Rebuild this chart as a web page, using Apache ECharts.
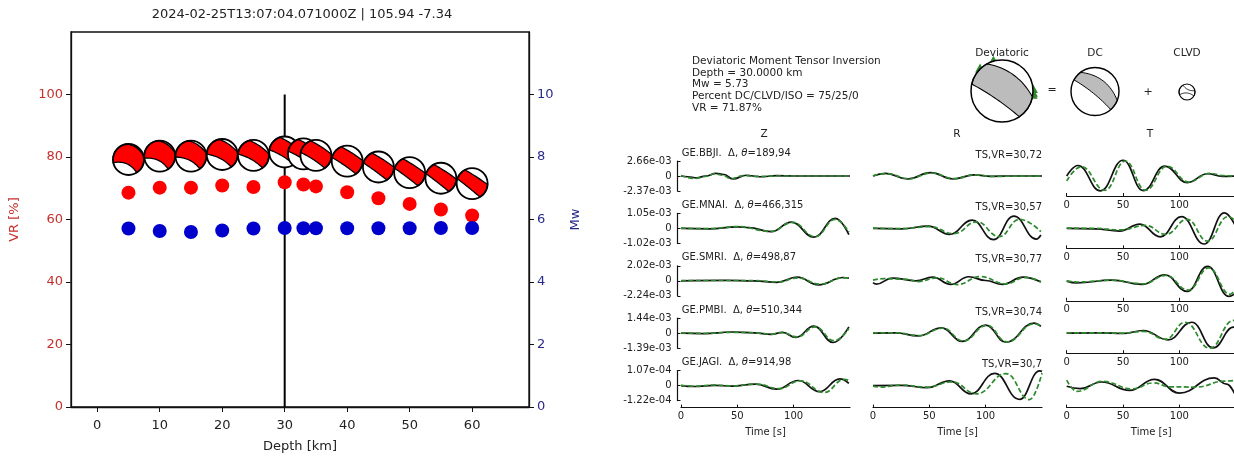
<!doctype html>
<html lang="en">
<head>
<meta charset="utf-8">
<title>Deviatoric moment tensor depth scan</title>
<script src="https://cdn.jsdelivr.net/npm/echarts@6/dist/echarts.min.js"></script>
<style>
  html, body { margin: 0; padding: 0; background: #fff; }
  #chart { width: 1234px; height: 456px; }
</style>
</head>
<body>
<div id="chart"></div>
<script>
// ---- depth scan (left panel) ----
var depths = [5, 10, 15, 20, 25, 30, 33, 35, 40, 45, 50, 55, 60];
var vr = [68.6, 70.2, 70.2, 70.9, 70.4, 71.9, 71.2, 70.6, 68.7, 66.8, 65.0, 63.2, 61.3];
var mw = [5.71, 5.63, 5.60, 5.65, 5.71, 5.73, 5.72, 5.72, 5.72, 5.72, 5.72, 5.73, 5.73];
var ballVR = [79.2, 80.3, 80.3, 80.8, 80.5, 81.6, 81.0, 80.5, 78.7, 76.8, 75.0, 73.2, 71.5];
var bestDepth = 30;
// nodal curves per mechanism: [a1, a2, bowA, b1, b2, bowB]
var mech = [
  [192, -58, 0.55, 92, 12, 0.3],
  [188, -57, 0.5, 95, 12, 0.28],
  [184, -55, 0.42, 98, 10, 0.25],
  [179, -54, 0.32, 102, 8, 0.2],
  [175, -54, 0.25, 105, 6, 0.16],
  [172, -54, 0.18, 108, 5, 0.12],
  [170, -54, 0.15, 110, 4, 0.12],
  [169, -55, 0.12, 110, 4, 0.1],
  [167, -56, 0.08, 113, 2, 0.08],
  [165, -57, 0.05, 115, 0, 0.06],
  [164, -58, 0.04, 116, -2, 0.06],
  [163, -59, 0.03, 117, -3, 0.06],
  [162, -60, 0.03, 118, -4, 0.06]
];
var devMech = [167, -56, 0.1, 119, -11, 0.43];
var dcMech = [151, -49, 0.15, 127, -22, 0.58];
var clvdMech = [200, -30, 0.6, 120, 10, -0.5];

// ---- waveform fits (right panel) ----
var stations = ['GE.BBJI.', 'GE.MNAI.', 'GE.SMRI.', 'GE.PMBI.', 'GE.JAGI.'];
var stationDist = [189, 466, 498, 510, 914];
var stationAz = [94, 315, 87, 344, 98];
var tsVR = ['30,72', '30,57', '30,77', '30,74', '30,7'];
var ampTop = ['2.66e-03', '1.05e-03', '2.02e-03', '1.44e-03', '1.07e-04'];
var ampBot = ['-2.37e-03', '-1.02e-03', '-2.24e-03', '-1.39e-03', '-1.22e-04'];
var infoLines = ['Deviatoric Moment Tensor Inversion', 'Depth = 30.0000 km', 'Mw = 5.73',
  'Percent DC/CLVD/ISO = 75/25/0', 'VR = 71.87%'];

// [time s, amplitude relative to panel tick range]
var obsZ = [
  [[0,0],[6,-0.05],[14,-0.12],[22,0],[31,0.18],[38,0.1],[46,-0.2],[58,0.05],[70,-0.05],[85,0.02],[100,0],[150,0]],
  [[0,0],[25,-0.03],[50,0.1],[60,0.05],[80,-0.22],[98,0.42],[118,-0.58],[137,0.67],[149,-0.42]],
  [[0,0],[40,0.03],[65,0],[85,-0.1],[103,0.24],[122,-0.27],[144,0.22],[149,0.18]],
  [[0,0],[20,-0.03],[45,0.08],[65,0.02],[80,-0.08],[90,0.05],[102,-0.28],[118,0.47],[135,-0.62],[149,0.42]],
  [[0,0],[12,-0.06],[30,0.02],[45,-0.04],[66,0.1],[85,-0.24],[104,0.34],[123,-0.4],[141,0.45],[149,0.15]]
];
var synZ = [
  [[0,0.03],[12,-0.16],[22,-0.02],[30,0.15],[37,0.05],[44,-0.17],[56,0.02],[68,-0.03],[85,0],[150,0]],
  [[0,0.02],[25,-0.02],[50,0.12],[80,-0.2],[99,0.4],[119,-0.55],[137,0.6],[149,-0.25]],
  [[0,0.02],[40,0.02],[65,0.02],[86,-0.08],[104,0.2],[123,-0.22],[144,0.2],[149,0.2]],
  [[0,0.02],[20,-0.02],[45,0.06],[65,0.03],[80,-0.06],[90,0.04],[103,-0.25],[119,0.42],[136,-0.5],[149,0.32]],
  [[0,0.02],[12,-0.04],[30,0.04],[45,-0.02],[67,0.1],[87,-0.2],[106,0.32],[127,-0.46],[145,0.42],[149,0.35]]
];
var obsR = [
  [[0,0],[11,0.18],[31,-0.2],[51,0.22],[71,-0.2],[90,0.08],[105,-0.02],[120,0],[150,0]],
  [[0,0],[25,-0.03],[49,0.15],[68,-0.4],[88,0.55],[107,-0.75],[125,0.82],[145,-0.71],[149,-0.44]],
  [[0,-0.12],[3,-0.22],[17,0.18],[38,0],[53,0.24],[69,-0.24],[85,0.27],[100,0.02],[115,-0.24],[133,0.24],[149,-0.08]],
  [[0,0],[20,0.02],[40,-0.18],[61,0.36],[79,-0.55],[100,0.54],[118,-0.6],[143,0.67],[149,0.45]],
  [[0,0],[25,0.02],[48,-0.14],[68,0.32],[87,-0.55],[108,0.82],[130,-0.92],[148,0.98],[150,0.95]]
];
var synR = [
  [[0,0.02],[12,0.16],[32,-0.18],[52,0.2],[72,-0.18],[91,0.07],[105,-0.02],[150,0]],
  [[0,0.02],[25,-0.02],[50,0.12],[72,-0.35],[92,0.44],[112,-0.55],[130,0.6],[149,-0.22]],
  [[0,0.05],[10,0.15],[30,0.1],[40,-0.05],[57,0.2],[75,-0.25],[95,0.28],[118,-0.2],[135,0.22],[149,-0.05]],
  [[0,0.02],[20,0.03],[41,-0.16],[62,0.34],[80,-0.52],[101,0.52],[119,-0.58],[143,0.62],[149,0.5]],
  [[0,-0.04],[6,-0.1],[25,0.04],[48,-0.1],[70,0.25],[92,-0.55],[118,0.8],[139,-0.93],[150,0.84]]
];
var obsT = [
  [[0,0],[10,0.7],[30,-0.99],[50,1.05],[68,-0.98],[87,0.66],[107,-0.44],[125,0.15],[138,-0.02],[150,0]],
  [[0,0],[25,-0.03],[47,-0.18],[65,0.29],[83,-0.56],[102,0.78],[122,-1.04],[140,1.04],[150,0.12]],
  [[0,-0.02],[9,-0.14],[40,0.05],[67,-0.24],[87,0.4],[107,-0.71],[125,0.96],[144,-1.04],[150,-0.8]],
  [[0,0],[30,0.02],[50,-0.02],[68,0.18],[90,-0.44],[111,0.73],[130,-0.98],[148,0.4],[150,0.55]],
  [[0,-0.04],[12,-0.2],[31,0.24],[56,-0.32],[78,0.42],[100,-0.5],[131,0.51],[142,0.1],[150,-0.7]]
];
var synT = [
  [[0,-0.33],[13,0.62],[34,-0.95],[52,1.0],[70,-0.95],[89,0.65],[108,-0.4],[127,0.18],[140,0.02],[150,0]],
  [[0,0.02],[25,0],[48,-0.1],[70,0.2],[88,-0.4],[107,0.6],[125,-0.85],[143,0.78],[150,0.5]],
  [[0,0],[9,-0.08],[40,0.04],[68,-0.2],[88,0.36],[108,-0.62],[126,0.86],[145,-0.9],[150,-0.5]],
  [[0,0.02],[30,0.02],[50,0],[68,0.12],[88,-0.4],[105,0.73],[127,-1.0],[148,0.85],[150,0.9]],
  [[0,0.36],[9,-0.38],[32,0.28],[58,-0.22],[77,0.18],[92,-0.08],[115,-0.1],[140,0.3],[150,0.36]]
];

var FONT = 'DejaVu Sans';
var TXT = '#222';
var GREEN = '#2d8a2d';

// beachball helpers (unit circle, v pointing up)
function unit(a) { var r = a * Math.PI / 180; return [Math.cos(r), Math.sin(r)]; }
function arcPts(out, from, to) {
  while (to < from) to += 360;
  for (var a = from; a < to; a += 4) out.push(unit(a));
  out.push(unit(to));
}
function bezPts(a, b, bow) {
  var p = unit(a), q = unit(b);
  var dx = q[0] - p[0], dy = q[1] - p[1], len = Math.sqrt(dx * dx + dy * dy);
  var c = [(p[0] + q[0]) / 2 - dy / len * bow, (p[1] + q[1]) / 2 + dx / len * bow];
  var pts = [];
  for (var i = 0; i <= 20; i++) {
    var t = i / 20, s = 1 - t;
    pts.push([s * s * p[0] + 2 * s * t * c[0] + t * t * q[0], s * s * p[1] + 2 * s * t * c[1] + t * t * q[1]]);
  }
  return pts;
}
function ballEls(cx, cy, r, m, fill, lw) {
  var pts = [];
  arcPts(pts, m[3], m[0]);
  pts = pts.concat(bezPts(m[0], m[1], m[2]));
  arcPts(pts, m[1], m[4]);
  pts = pts.concat(bezPts(m[3], m[4], m[5]).reverse());
  var px = pts.map(function (p) { return [cx + r * p[0], cy - r * p[1]]; });
  return [
    { type: 'circle', shape: { cx: cx, cy: cy, r: r }, style: { fill: '#fff' } },
    { type: 'polygon', shape: { points: px }, style: { fill: fill, stroke: '#000', lineWidth: lw * 0.7 } },
    { type: 'circle', shape: { cx: cx, cy: cy, r: r }, style: { fill: 'none', stroke: '#000', lineWidth: lw } }
  ];
}

var grids = [{ left: 71, top: 32, width: 458, height: 375, show: true, borderColor: '#111', borderWidth: 1.3,
  backgroundColor: 'transparent', outerBoundsMode: 'none', containLabel: false }];
var xAxes = [{
  gridIndex: 0, type: 'value', min: -4.2, max: 69.1,
  axisLine: { onZero: false, lineStyle: { color: '#111', width: 1.3 } },
  axisTick: { length: 5, customValues: [0, 10, 20, 30, 40, 50, 60], lineStyle: { color: '#111' } },
  axisLabel: { customValues: [0, 10, 20, 30, 40, 50, 60], fontSize: 13, color: TXT, fontFamily: FONT, margin: 12 },
  splitLine: { show: false },
  name: 'Depth [km]', nameLocation: 'middle', nameGap: 33,
  nameTextStyle: { fontSize: 13, color: TXT, fontFamily: FONT }
}];
var yAxes = [{
  gridIndex: 0, type: 'value', min: 0, max: 120, position: 'left',
  axisLine: { onZero: false, lineStyle: { color: '#111', width: 1.3 } },
  axisTick: { length: 5, customValues: [0, 20, 40, 60, 80, 100], lineStyle: { color: '#111' } },
  axisLabel: { customValues: [0, 20, 40, 60, 80, 100], fontSize: 13, color: '#c8302c', fontFamily: FONT, margin: 8 },
  splitLine: { show: false },
  name: 'VR [%]', nameLocation: 'middle', nameGap: 50, nameRotate: 90,
  nameTextStyle: { fontSize: 13, color: '#c8302c', fontFamily: FONT }
}, {
  gridIndex: 0, type: 'value', min: 0, max: 12, position: 'right',
  axisLine: { onZero: false, lineStyle: { color: '#111', width: 1.3 } },
  axisTick: { length: 5, customValues: [0, 2, 4, 6, 8, 10], lineStyle: { color: '#111' } },
  axisLabel: { customValues: [0, 2, 4, 6, 8, 10], fontSize: 13, color: '#2a2a8c', fontFamily: FONT, margin: 8 },
  splitLine: { show: false },
  name: 'Mw', nameLocation: 'middle', nameGap: 40, nameRotate: 90,
  nameTextStyle: { fontSize: 13, color: '#2a2a8c', fontFamily: FONT }
}];

var series = [
  { type: 'line', xAxisIndex: 0, yAxisIndex: 0, data: [[bestDepth, 0], [bestDepth, 100]], symbol: 'none',
    lineStyle: { color: '#000', width: 2 }, z: 1, silent: true },
  { type: 'scatter', xAxisIndex: 0, yAxisIndex: 0, symbolSize: 14, itemStyle: { color: '#ff0000', opacity: 1 }, z: 2,
    data: depths.map(function (d, i) { return [d, vr[i]]; }) },
  { type: 'scatter', xAxisIndex: 0, yAxisIndex: 1, symbolSize: 14, itemStyle: { color: '#0000cc', opacity: 1 }, z: 2,
    data: depths.map(function (d, i) { return [d, mw[i]]; }) },
  { type: 'custom', xAxisIndex: 0, yAxisIndex: 0, z: 5, clip: false,
    data: depths.map(function (d, i) { return [d, ballVR[i]]; }),
    renderItem: function (params, api) {
      var p = api.coord([api.value(0), api.value(1)]);
      return { type: 'group', children: ballEls(p[0], p[1], 15.5, mech[params.dataIndex], '#ff0000', 1.8) };
    } }
];

var colLeft = [681, 873, 1066.7];
var obsCols = [obsZ, obsR, obsT], synCols = [synZ, synR, synT];
function rowTop(r) { return 161 + r * 52.4; }
function tickFmt(r) {
  return function (v) { return v > 0 ? ampTop[r] : (v < 0 ? ampBot[r] : '0'); };
}

for (var r = 0; r < 5; r++) {
  for (var c = 0; c < 3; c++) {
    var k = grids.length;
    grids.push({ left: colLeft[c], top: rowTop(r), width: 169, height: 30, outerBoundsMode: 'none', containLabel: false });
    var xa = {
      gridIndex: k, type: 'value', min: 0, max: 150, show: (c === 2 || r === 4), position: 'bottom',
      offset: r === 4 ? 7 : 5,
      axisLine: { onZero: false, lineStyle: { color: '#111', width: 1.2 } },
      axisTick: { inside: true, length: 3, customValues: [0, 50, 100], lineStyle: { color: '#111' } },
      axisLabel: { customValues: [0, 50, 100], fontSize: 10, color: TXT, fontFamily: FONT, margin: 4 },
      splitLine: { show: false }
    };
    if (r === 4) {
      xa.name = 'Time [s]'; xa.nameLocation = 'middle'; xa.nameGap = 20;
      xa.nameTextStyle = { fontSize: 10, color: TXT, fontFamily: FONT };
    }
    xAxes.push(xa);
    yAxes.push({
      gridIndex: k, type: 'value', min: -1, max: 1, show: c === 0, offset: 3.5,
      axisLine: { onZero: false, lineStyle: { color: '#111', width: 1.2 } },
      axisTick: { inside: true, length: 3, customValues: [-1, 0, 1], lineStyle: { color: '#111' } },
      axisLabel: { customValues: [-1, 0, 1], formatter: tickFmt(r), fontSize: 10, color: TXT, fontFamily: FONT, margin: 6 },
      splitLine: { show: false }
    });
    var xi = xAxes.length - 1, yi = yAxes.length - 1;
    series.push({ type: 'line', xAxisIndex: xi, yAxisIndex: yi, data: obsCols[c][r], smooth: 0.45, smoothMonotone: 'x',
      symbol: 'none', clip: false, silent: true, z: 3, lineStyle: { color: '#111', width: 1.7 } });
    series.push({ type: 'line', xAxisIndex: xi, yAxisIndex: yi, data: synCols[c][r], smooth: 0.45, smoothMonotone: 'x',
      symbol: 'none', clip: false, silent: true, z: 4, lineStyle: { color: GREEN, width: 1.7, type: [5, 2.5] } });
  }
}

// ---- text and top beachballs ----
var graphics = [];
function txt(x, y, s, size, align, color) {
  graphics.push({ type: 'text', x: x, y: y, silent: true,
    style: { text: s, fontSize: size, fontFamily: FONT, fill: color || TXT, align: align || 'left', verticalAlign: 'middle' } });
}
txt(302, 15, '2024-02-25T13:07:04.071000Z | 105.94 -7.34', 13, 'center');
infoLines.forEach(function (s, i) { txt(692, 61 + i * 11.8, s, 10.5); });
txt(1002, 53, 'Deviatoric', 10.5, 'center');
txt(1095, 53, 'DC', 10.5, 'center');
txt(1187, 53, 'CLVD', 10.5, 'center');
txt(1052, 90, '=', 11, 'center');
txt(1148, 92, '+', 11, 'center');
txt(764, 134, 'Z', 10.5, 'center');
txt(957, 134, 'R', 10.5, 'center');
txt(1150, 134, 'T', 10.5, 'center');
stations.forEach(function (s, i) {
  graphics.push({ type: 'text', x: 681.7, y: rowTop(i) - 8, silent: true,
    style: { text: '{a|' + s + '  Δ, }{i|θ}{a|=' + stationDist[i] + ',' + stationAz[i] + '}', verticalAlign: 'middle',
      rich: { a: { fontSize: 10, fontFamily: FONT, fill: TXT }, i: { fontSize: 10, fontFamily: FONT, fontStyle: 'italic', fill: TXT } } } });
  txt(1042, rowTop(i) - 6, 'TS,VR=' + tsVR[i], 10, 'right');
});

// station azimuth markers under the deviatoric ball
var devC = [1002, 91], devR = 31;
stationAz.forEach(function (az) {
  var a = az * Math.PI / 180, x = devC[0] + devR * Math.sin(a), y = devC[1] - devR * Math.cos(a);
  graphics.push({ type: 'polygon', silent: true, shape: { points: [[x, y - 5.5], [x - 5, y + 3.5], [x + 5, y + 3.5]] },
    style: { fill: GREEN } });
});
function addBall(cx, cy, rad, m, fill, lw) {
  ballEls(cx, cy, rad, m, fill, lw).forEach(function (e) { e.silent = true; graphics.push(e); });
}
addBall(devC[0], devC[1], devR, devMech, '#bcbcbc', 1.5);
addBall(1095, 91.5, 24, dcMech, '#bcbcbc', 1.4);
addBall(1187, 92, 8, clvdMech, '#ffffff', 1.2);

var chart = echarts.init(document.getElementById('chart'), null, { renderer: 'canvas' });
chart.setOption({
  animation: false,
  backgroundColor: '#fff',
  grid: grids,
  xAxis: xAxes,
  yAxis: yAxes,
  series: series,
  graphic: { elements: graphics }
});
window.addEventListener('resize', chart.resize);
</script>
</body>
</html>
